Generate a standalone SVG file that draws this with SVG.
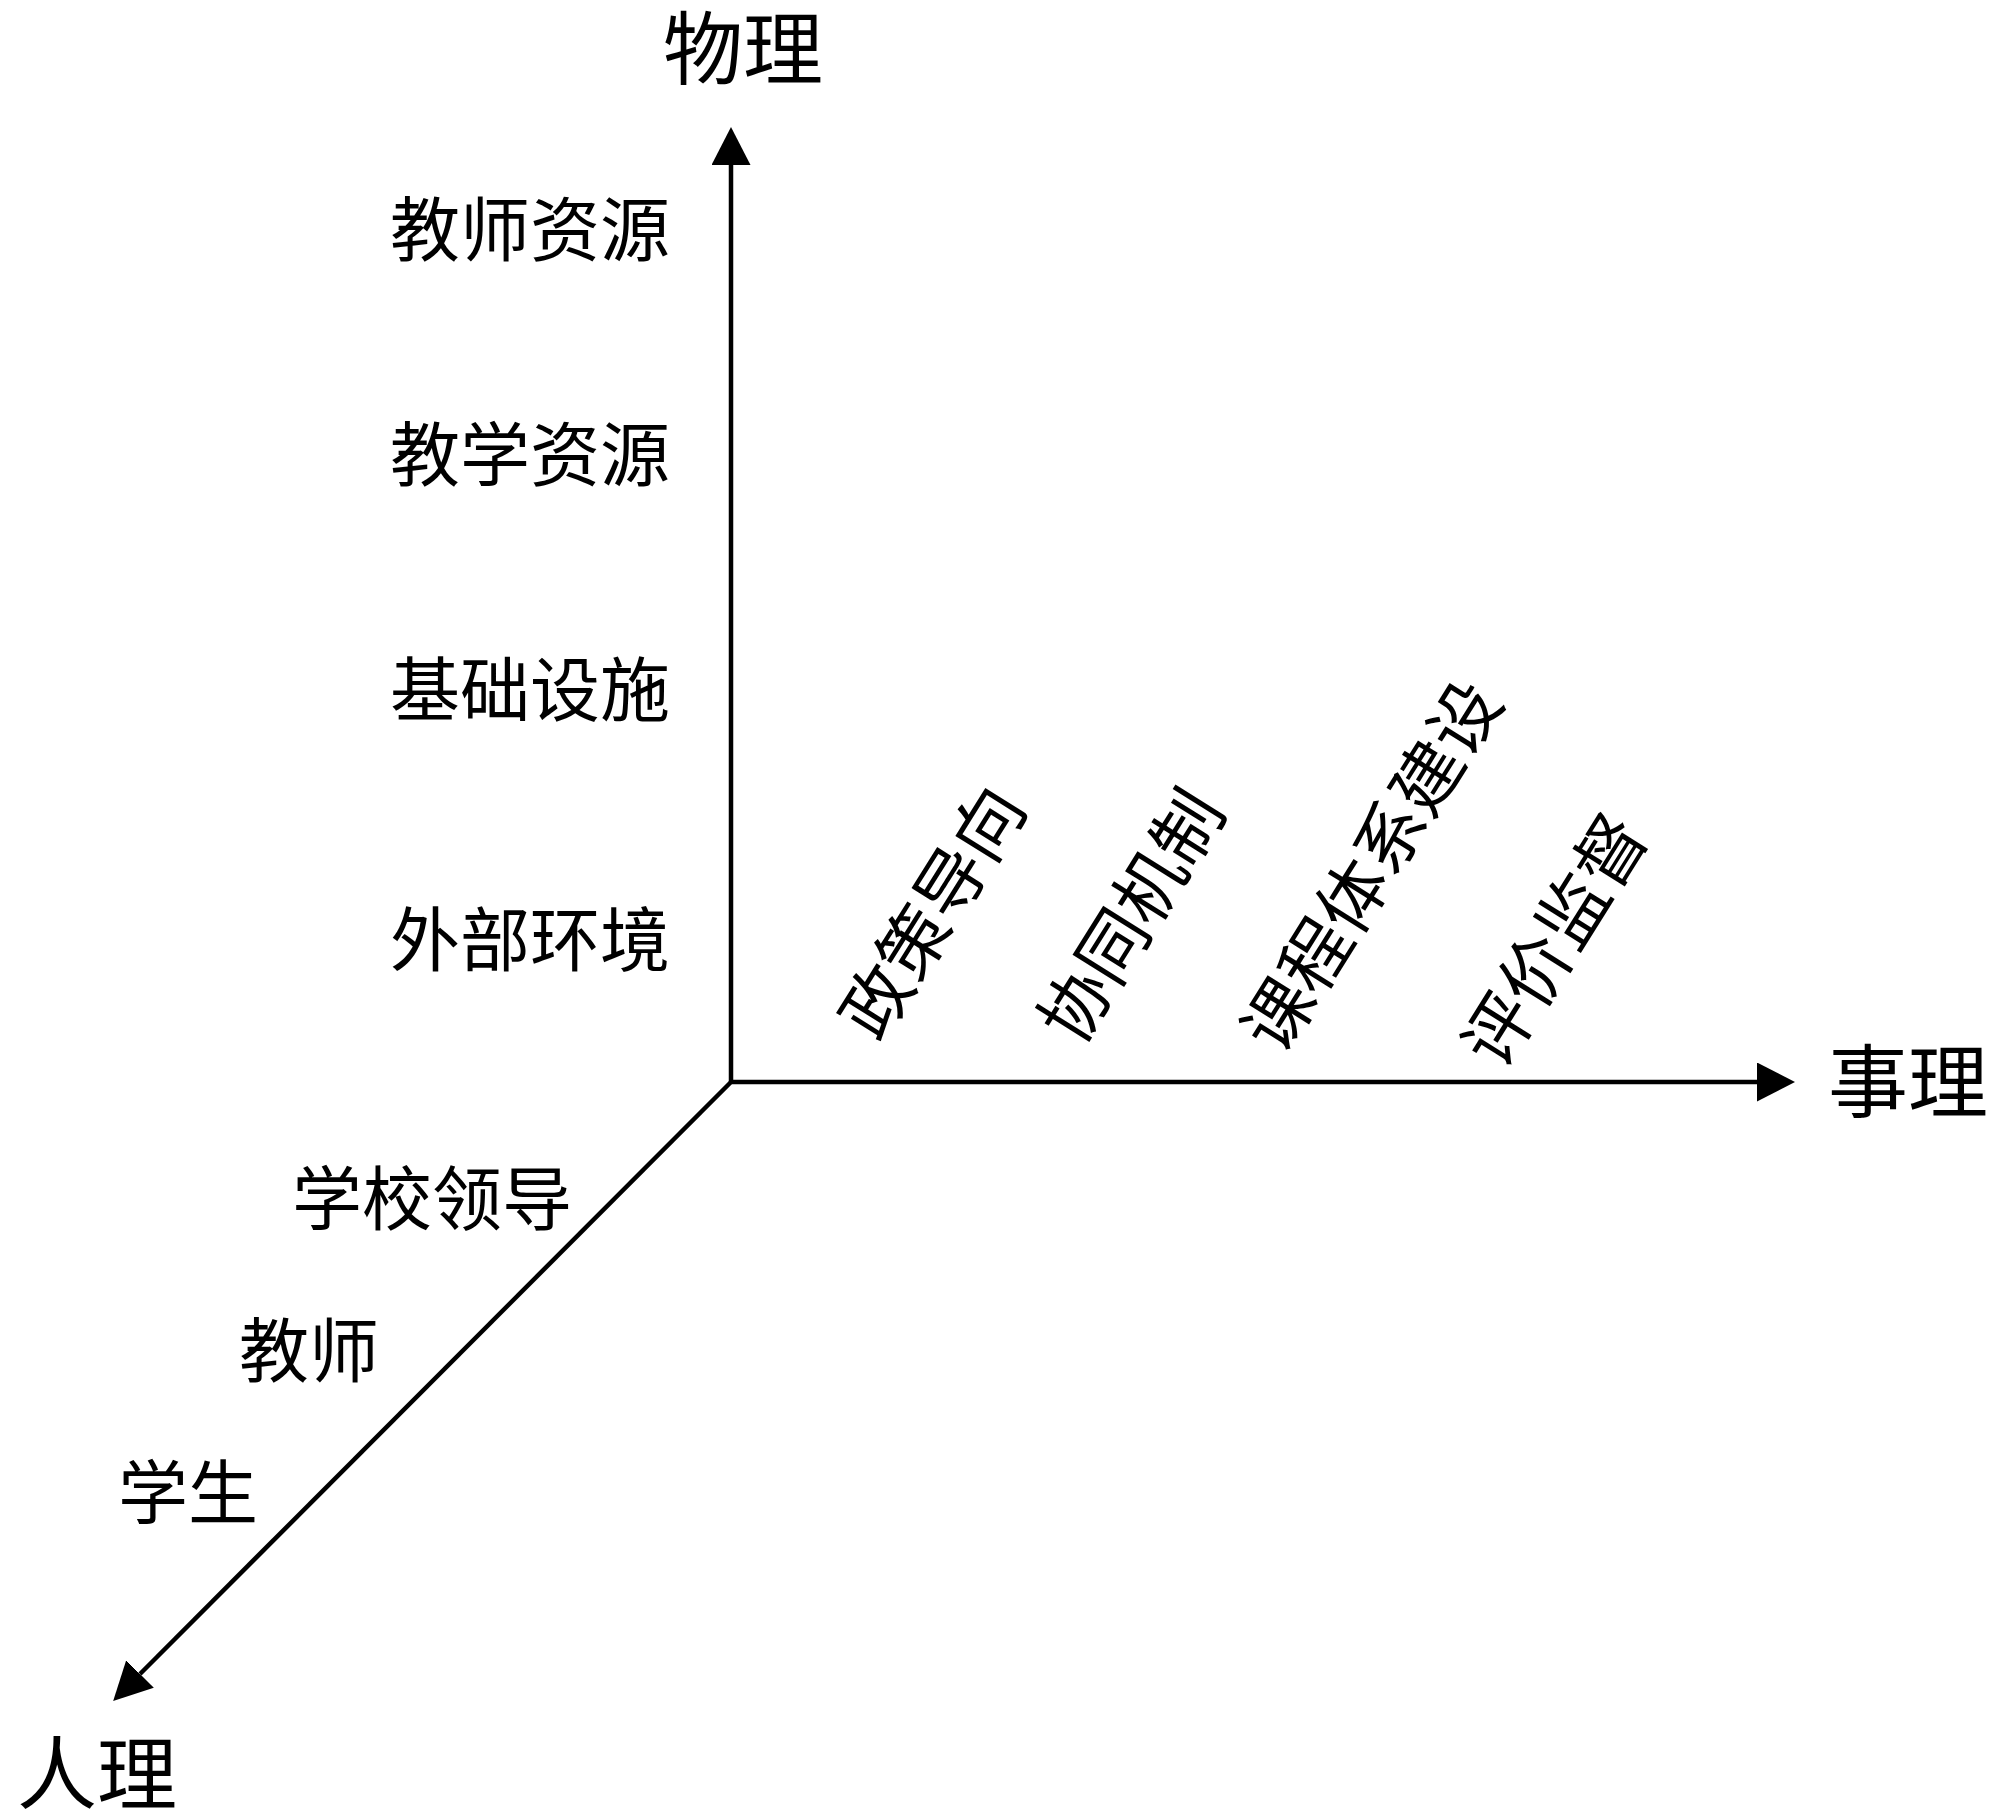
<svg xmlns="http://www.w3.org/2000/svg" width="2000" height="1820" viewBox="0 0 2000 1820">
  <style>
    text { font-family: "Liberation Serif", "Noto Sans CJK SC", serif; fill: #000; }
    .axis { font-size: 80px; text-anchor: middle; }
    .lbl { font-size: 70px; }
    .end { text-anchor: end; }
    .mid { text-anchor: middle; }
    .ax { stroke: #000; stroke-width: 4.5; fill: none; marker-end: url(#arrow); }
  </style>
  <defs>
    <marker id="arrow" markerUnits="userSpaceOnUse" viewBox="0 0 38 39" markerWidth="38" markerHeight="39" refX="0" refY="19.5" orient="auto">
      <path d="M0,0 L38,19.5 L0,39 Z" fill="#000"/>
    </marker>
  </defs>
  <rect width="2000" height="1820" fill="#fff"/>

  <g id="connectors">
    <line class="ax" x1="731" y1="1084" x2="731" y2="165"/>
    <line class="ax" x1="729" y1="1082" x2="1757" y2="1082"/>
    <line class="ax" x1="731" y1="1082" x2="140" y2="1674"/>
  </g>

  <g id="axis-wuli"><text class="axis" x="743" y="78">物理</text></g>
  <g id="axis-shili"><text class="axis" x="1908" y="1111">事理</text></g>
  <g id="axis-renli"><text class="axis" x="97" y="1803">人理</text></g>

  <g id="wuli-items">
    <g id="n-jiaoshiziyuan"><text class="lbl end" x="670" y="256">教师资源</text></g>
    <g id="n-jiaoxueziyuan"><text class="lbl end" x="670" y="481">教学资源</text></g>
    <g id="n-jichusheshi"><text class="lbl end" x="670" y="716">基础设施</text></g>
    <g id="n-waibuhuanjing"><text class="lbl end" x="670" y="966">外部环境</text></g>
  </g>

  <g id="renli-items">
    <g id="n-xuexiaolingdao"><text class="lbl end" x="572" y="1225">学校领导</text></g>
    <g id="n-jiaoshi"><text class="lbl end" x="379" y="1377">教师</text></g>
    <g id="n-xuesheng"><text class="lbl end" x="258" y="1519">学生</text></g>
  </g>

  <g id="shili-items">
    <g id="n-zhengcedaoxiang" transform="translate(932,912) rotate(-58)"><text class="lbl mid" x="0" y="26">政策导向</text></g>
    <g id="n-xietongjizhi" transform="translate(1131,916) rotate(-58)"><text class="lbl mid" x="0" y="26">协同机制</text></g>
    <g id="n-kechengtixijianshe" transform="translate(1371,866) rotate(-58)"><text class="lbl mid" x="0" y="26">课程体系建设</text></g>
    <g id="n-pingjiajiandu" transform="translate(1554,940) rotate(-58)"><text class="lbl mid" x="0" y="26">评价监督</text></g>
  </g>
</svg>
